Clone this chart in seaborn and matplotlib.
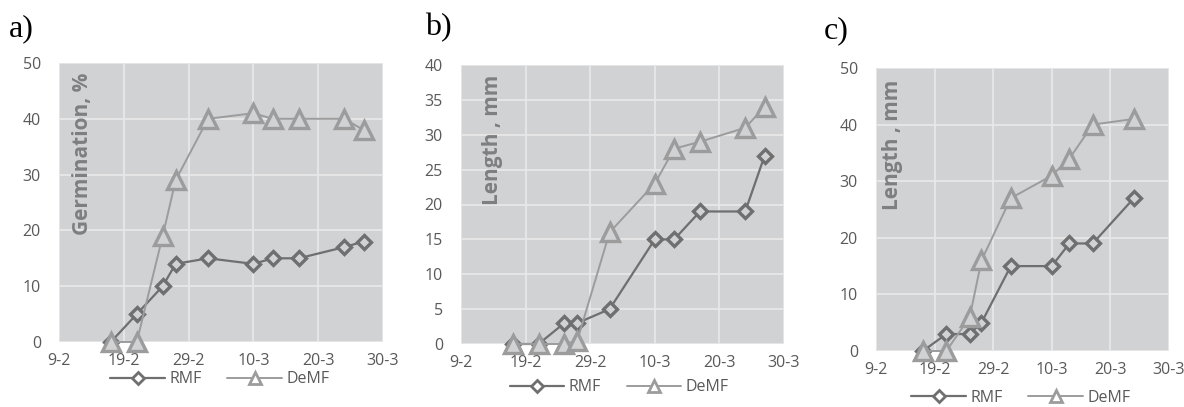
import matplotlib
matplotlib.use("Agg")
import matplotlib.pyplot as plt
import matplotlib.dates as mdates
from matplotlib.lines import Line2D
from matplotlib.ticker import FuncFormatter, MultipleLocator
import seaborn as sns
import pandas as pd

sns.set_theme(style="white")
plt.rcParams['font.family'] = ['Open Sans', 'DejaVu Sans']

# ---- data ----
dates_ab = ["2020-02-17", "2020-02-21", "2020-02-25", "2020-02-27", "2020-03-03",
            "2020-03-10", "2020-03-13", "2020-03-17", "2020-03-24", "2020-03-27"]
dates_c = ["2020-02-17", "2020-02-21", "2020-02-25", "2020-02-27", "2020-03-03",
           "2020-03-10", "2020-03-13", "2020-03-17", "2020-03-24"]

rmf_a = [0, 5, 10, 14, 15, 14, 15, 15, 17, 18]
demf_a = [0, 0, 19, 29, 40, 41, 40, 40, 40, 38]

rmf_b = [0, 0, 3, 3, 5, 15, 15, 19, 19, 27]
demf_b = [0, 0, 0, 0.5, 16, 23, 28, 29, 31, 34]

rmf_c = [0, 3, 3, 5, 15, 15, 19, 19, 27]
demf_c = [0, 0, 6, 16, 27, 31, 34, 40, 41]

tick_dates = ["2020-02-09", "2020-02-19", "2020-02-29", "2020-03-10", "2020-03-20", "2020-03-30"]
panel_letters = ["a)", "b)", "c)"]
y_labels = ["Germination, %", "Length , mm", "Length , mm"]
series_names = ["RMF", "DeMF"]

# ---- style ----
BG = "#d1d2d4"
GRID = "#e8e8e8"
C_RMF = "#6f6f6f"
C_DEMF = "#9c9c9c"
TICKC = "#595959"

fig = plt.figure(figsize=(11.84, 4.07), dpi=100)

axes_pos = [
    [59 / 1184, 1 - 342 / 407, 324 / 1184, 279 / 407],
    [461 / 1184, 1 - 344 / 407, 323 / 1184, 279 / 407],
    [876 / 1184, 1 - 351 / 407, 293 / 1184, 283 / 407],
]
ymax = [50, 40, 50]
ystep = [10, 5, 10]
ylabel_pos = [(0.074, 0.964), (0.096, 0.964), (0.058, 0.958)]
legend_pos = [(0.497, -0.133), (0.49, -0.155), (0.495, -0.166)]
letter_pos = [(9, 29), (425, 28), (824, 31)]

panels = [
    (dates_ab, rmf_a, demf_a),
    (dates_ab, rmf_b, demf_b),
    (dates_c, rmf_c, demf_c),
]

xt = pd.to_datetime(tick_dates)

for i, (d, r, dm) in enumerate(panels):
    ax = fig.add_axes(axes_pos[i])
    ax.set_facecolor(BG)
    x = pd.to_datetime(d)
    sns.lineplot(x=x, y=r, ax=ax, color=C_RMF, linewidth=1.6,
                 marker="D", markersize=7.5, markeredgewidth=2.4,
                 markeredgecolor=C_RMF, markerfacecolor=BG, zorder=3, clip_on=False)
    sns.lineplot(x=x, y=dm, ax=ax, color=C_DEMF, linewidth=1.4,
                 marker="^", markersize=13, markeredgewidth=2.4,
                 markeredgecolor=C_DEMF, markerfacecolor=BG, zorder=4, clip_on=False)
    ax.set_xlim(xt[0], xt[-1])
    ax.set_xticks(xt)
    ax.xaxis.set_major_formatter(FuncFormatter(
        lambda v, p: f"{mdates.num2date(v).day}-{mdates.num2date(v).month}"))
    ax.set_ylim(0, ymax[i])
    ax.yaxis.set_major_locator(MultipleLocator(ystep[i]))
    ax.grid(True, color=GRID, linewidth=1.3)
    ax.set_axisbelow(True)
    for s in ax.spines.values():
        s.set_visible(False)
    ax.tick_params(axis="both", length=0, labelsize=11.5, labelcolor=TICKC)
    ax.tick_params(axis="x", pad=8)
    ax.tick_params(axis="y", pad=13)
    ax.set_xlabel("")
    ax.set_ylabel("")
    ax.text(ylabel_pos[i][0], ylabel_pos[i][1], y_labels[i], transform=ax.transAxes,
            rotation=90, ha="center", va="top", fontsize=15, fontweight="bold",
            color="#7f7f7f")
    handles = [
        Line2D([], [], color=C_RMF, linewidth=1.6, marker="D", markersize=6,
               markeredgewidth=2, markeredgecolor=C_RMF, markerfacecolor="white"),
        Line2D([], [], color=C_DEMF, linewidth=1.4, marker="^", markersize=9,
               markeredgewidth=2, markeredgecolor=C_DEMF, markerfacecolor="white"),
    ]
    leg = ax.legend(handles, series_names, ncol=2, frameon=False, loc="center",
                    bbox_to_anchor=legend_pos[i], fontsize=11.5, handlelength=3.4,
                    handletextpad=0.3, columnspacing=1.6)
    for t in leg.get_texts():
        t.set_color(TICKC)
    fig.text(letter_pos[i][0] / 1184, 1 - letter_pos[i][1] / 407, panel_letters[i],
             ha="left", va="center", fontsize=23, family="Liberation Serif", color="black")

fig.savefig("out.png", dpi=100)
